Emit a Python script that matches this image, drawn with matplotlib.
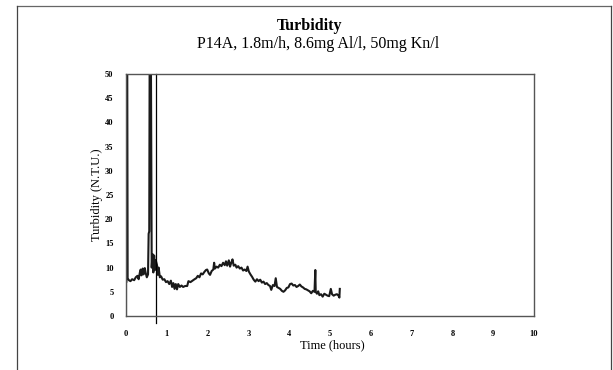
import matplotlib
matplotlib.use("Agg")
import matplotlib.pyplot as plt
from matplotlib.lines import Line2D

# ---- data ----
time_h = [0.00, 0.00, 0.01, 0.02, 0.03, 0.04, 0.07, 0.11, 0.15, 0.20, 0.24, 0.28, 0.31, 0.34,
          0.36, 0.38, 0.41, 0.43, 0.46, 0.48, 0.51, 0.54, 0.555, 0.57, 0.58, 0.595, 0.61, 0.63,
          0.65, 0.67, 0.69, 0.71, 0.73, 0.76, 0.78, 0.80, 0.83, 0.86, 0.90, 0.94, 0.98, 1.02,
          1.06, 1.10, 1.13, 1.16, 1.19, 1.22, 1.25, 1.28, 1.32, 1.36, 1.40, 1.45, 1.50, 1.53,
          1.58, 1.63, 1.68, 1.72, 1.76, 1.80, 1.84, 1.88, 1.92, 1.96, 1.99, 2.03, 2.06, 2.10,
          2.14, 2.16, 2.18, 2.22, 2.26, 2.30, 2.34, 2.38, 2.42, 2.45, 2.48, 2.52, 2.55, 2.58,
          2.61, 2.64, 2.68, 2.71, 2.75, 2.79, 2.83, 2.87, 2.91, 2.95, 2.98, 3.01, 3.05, 3.09,
          3.13, 3.17, 3.21, 3.25, 3.29, 3.33, 3.37, 3.41, 3.45, 3.49, 3.53, 3.56, 3.60, 3.64,
          3.67, 3.70, 3.74, 3.78, 3.82, 3.86, 3.90, 3.94, 3.98, 4.02, 4.06, 4.10, 4.14, 4.18,
          4.22, 4.26, 4.30, 4.34, 4.38, 4.42, 4.46, 4.50, 4.54, 4.58, 4.62, 4.64, 4.65, 4.68,
          4.71, 4.74, 4.78, 4.82, 4.86, 4.90, 4.94, 4.98, 5.02, 5.05, 5.09, 5.13, 5.17, 5.21,
          5.23, 5.24]
turbidity = [0.0, 7.0, 7.0, 55.0, 55.0, 7.8, 7.4, 7.2, 7.6, 7.4, 8.0, 8.3, 7.6, 9.0,
             9.6, 8.4, 9.8, 8.6, 9.9, 9.0, 8.0, 8.6, 17.0, 17.5, 55.0, 55.0, 55.0, 10.0,
             12.8, 9.0, 12.5, 9.5, 11.5, 10.5, 8.5, 10.0, 8.0, 8.2, 7.5, 7.6, 7.0, 7.2,
             6.6, 7.3, 6.0, 6.8, 5.6, 6.6, 5.5, 6.6, 6.0, 6.3, 6.0, 6.2, 6.2, 7.2,
             7.0, 7.3, 7.6, 7.8, 8.3, 8.0, 8.8, 8.6, 9.1, 9.5, 9.6, 8.8, 8.5, 9.3,
             9.6, 11.0, 9.8, 10.2, 10.0, 10.6, 10.3, 11.0, 10.5, 11.3, 10.4, 11.5, 10.2, 11.0,
             11.7, 10.4, 10.6, 10.0, 10.3, 9.8, 10.0, 9.4, 9.6, 9.3, 10.2, 9.2, 8.6, 8.1,
             7.5, 7.1, 7.6, 7.2, 7.5, 6.9, 7.1, 6.6, 6.8, 6.4, 6.2, 5.4, 6.4, 6.2,
             7.8, 6.0, 5.8, 5.6, 5.2, 5.0, 5.3, 5.8, 5.9, 6.6, 6.7, 6.3, 6.4, 6.0,
             6.2, 6.5, 6.1, 5.9, 5.6, 5.5, 5.3, 5.1, 4.7, 5.2, 5.0, 9.5, 5.0, 4.6,
             5.1, 4.3, 4.5, 4.0, 4.6, 4.4, 4.2, 4.1, 5.6, 4.5, 4.2, 4.4, 4.5, 4.2,
             3.8, 5.6]
marker_time = 0.745
x_ticks = [0, 1, 2, 3, 4, 5, 6, 7, 8, 9, 10]
y_ticks = [0, 5, 10, 15, 20, 25, 30, 35, 40, 45, 50]

plt.rcParams['font.family'] = ['Liberation Serif', 'DejaVu Serif']

fig = plt.figure(figsize=(6.13, 3.70), dpi=100)
ax = fig.add_axes([126/613, 1 - 316/370, (534-126)/613, (316-74)/370])

ax.plot(time_h, turbidity, color='#1a1a1a', lw=1.5)
ax.axvline(marker_time, ymin=-0.03, ymax=1.0, color='black', lw=0.9, clip_on=False)

ax.set_xlim(0, 10)
ax.set_ylim(0, 50)
ax.set_xticks(x_ticks)
ax.set_yticks(y_ticks)
ax.tick_params(axis='both', length=0, labelsize=6)
ax.tick_params(axis='x', pad=10)
ax.tick_params(axis='y', pad=9)
for lab in ax.get_xticklabels() + ax.get_yticklabels():
    lab.set_fontweight('bold')
for s in ax.spines.values():
    s.set_color('#555555')
    s.set_linewidth(1.0)

ax.set_xlabel('Time (hours)', fontsize=9)
ax.xaxis.set_label_coords((332-126)/408, (316-339)/242)
ax.set_ylabel('Turbidity (N.T.U.)', fontsize=9, va='center')
ax.yaxis.set_label_coords((97-126)/408, 0.5)

fig.text(310/613, 1 - 26/370, 'Turbidity', ha='center', va='center',
         fontsize=11.5, fontweight='bold')
fig.text(318/613, 1 - 44/370, 'P14A, 1.8m/h, 8.6mg Al/l, 50mg Kn/l', ha='center',
         va='center', fontsize=11.5)

# outer page border
fig.add_artist(Line2D([17/613, 611/613], [1 - 6/370, 1 - 6/370], color='#666666', lw=0.9))
fig.add_artist(Line2D([17/613, 17/613], [1 - 6/370, 0], color='#444444', lw=0.9))
fig.add_artist(Line2D([611/613, 611/613], [1 - 6/370, 0], color='#444444', lw=0.9))

fig.savefig('out.png', dpi=100)
